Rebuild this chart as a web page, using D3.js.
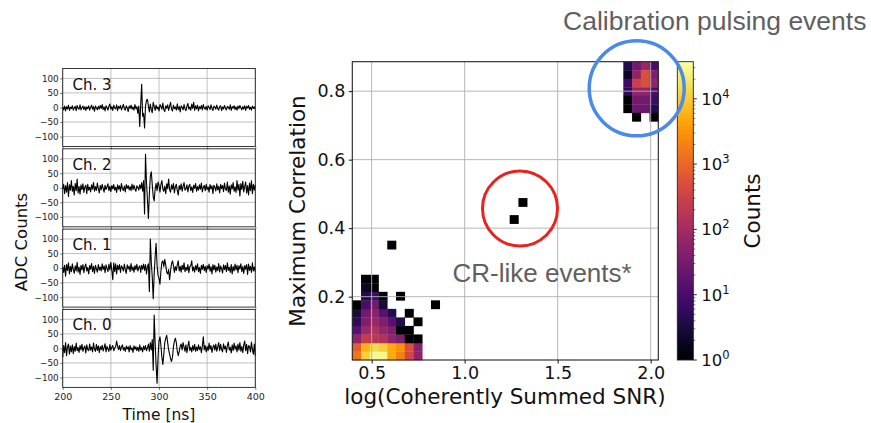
<!DOCTYPE html>
<html><head><meta charset="utf-8">
<script src="https://cdn.jsdelivr.net/npm/d3@7"></script>
<style>body{margin:0;background:#fff}svg{display:block}</style>
</head><body>
<svg id="c" width="871" height="423" font-family="DejaVu Sans, sans-serif"></svg>
<script>
// ---------------- DATA ----------------
const channelNames = ["Ch. 3", "Ch. 2", "Ch. 1", "Ch. 0"];
const tStart = 200, tStep = 1;
const ch3 = [2,-8,5,-12,3,-5,8,-10,1,-4, 6,-9,-2,4,-11,7,-3,-6,9,-8, -1,5,-7,3,-10,2,-4,6,-9,0, 8,-6,3,-13,5,-2,-8,4,-5,7,
 -3,10,-7,2,-12,6,-1,-9,5,12, -6,3,-10,8,-2,-5,9,-11,4,-3, 7,-8,1,11,-4,-9,6,-2,-14,5, -3,8,-6,2,-9,10,-4,3,-20,5,
 -65,10,80,-30,-20,-70,5,25,28,5, -15,12,-8,-18,18,5,-10,8,-5,2, -12,10,4,-6,15,-8,-14,6,-3,9, -10,5,18,-5,-12,8,-4,2,-9,13,
 -7,3,-15,6,1,-8,10,-4,-11,5, 14,-6,2,-9,12,-3,18,-10,6,-5, 8,-12,3,-4,7,-8,10,-2,-6,4, -9,6,1,-7,9,-3,-10,5,2,-6,
 8,-4,-9,3,6,-11,2,-5,7,-3, -8,4,1,-6,9,-10,3,-2,6,-7, 2,-9,5,-4,7,-1,-8,3,-5,6, -10,4,-2,7,-6,1,-9,5,-3,2, -6];
const ch2 = [-5,12,-20,8,-15,18,-30,10,-8,25, -12,5,-25,15,-10,30,-18,4,-22,10, -6,14,-16,3,9,-20,12,-8,2,-14, 10,-5,18,-12,4,-9,16,-3,-18,8,
 -7,12,-2,-15,9,-6,3,14,-10,5, -13,8,-4,11,-8,2,-16,10,-5,7, -12,15,-3,-9,6,-14,11,-2,8,-7, 4,-10,13,-6,9,-4,-12,7,2,-8,
 10,-3,18,-12,25,-90,115,20,-40,-105, -20,40,55,10,-30,-45,-5,15,-10,20, 8,-15,12,25,-5,-12,6,-20,14,-3, 30,-8,-15,10,-5,15,-18,4,12,-10,
 -25,8,-6,14,-12,5,18,-8,-4,10, -14,6,12,-10,3,-16,9,-2,15,-12, 4,-8,10,-5,16,-14,2,8,-10,12, -6,3,-15,11,-4,7,-20,9,2,-11,
 14,-7,5,-18,12,-3,8,-13,16,-5, -9,20,-15,6,-22,10,-4,18,-12,3, -16,25,-8,12,-28,15,-6,22,-14,5, 20,-18,8,-25,16,-10,24,-20,12,-8, 10];
const ch1 = [5,-15,10,-28,12,-8,18,-20,6,-12, 15,-5,-18,8,-10,20,-14,3,-22,10, -6,12,-16,5,14,-10,2,-20,9,-4, 16,-12,6,-18,10,-3,-14,12,-7,4,
 -10,15,-5,8,-16,11,-2,-12,14,-6, 20,-8,-40,18,-12,15,-20,10,-5,12, -15,8,2,-10,14,-6,-18,11,-3,7, -12,16,-8,4,-14,9,-5,13,-10,2,
 8,-15,10,-4,14,-8,12,-20,5,15, -80,100,20,-30,-105,-20,40,85,10,-25, -35,-55,-10,20,25,5,30,10,-15,-20, -5,-40,-10,15,25,8,-15,5,-8,12,
 25,-10,6,-14,10,-5,18,-12,3,-8, 12,-16,5,8,25,-10,4,-14,9,-6, 15,-12,2,-18,10,-4,13,-9,6,-15, 8,-3,14,-11,5,-20,12,-6,10,-14,
 4,-9,16,-13,7,-2,-17,11,-5,9, -12,18,-8,3,-15,12,-20,6,-10,14, -6,10,-16,8,-3,15,-12,5,-18,9, -4,12,-22,14,-8,6,-15,18,-10,4, -12];
const ch0 = [-30,10,-15,20,-25,5,15,-20,8,-12, 12,-18,6,-10,18,-8,3,-14,10,-5, 14,-10,2,8,-16,12,-4,-8,15,-6, 5,-12,18,-3,-10,14,-7,9,-15,6,
 -4,11,-9,3,16,-12,7,-2,-10,13, -6,4,10,-8,2,6,25,8,-4,10, -8,5,12,-6,3,-10,8,-2,6,-12, 10,-5,2,-14,9,-3,6,-8,4,-10,
 12,-6,3,-12,8,-4,10,-8,2,15, -10,20,-5,30,-75,115,20,-60,-120,-30, 25,40,10,-30,-55,-20,20,35,45,20, -5,-20,-35,-45,-30,5,25,35,20,-10,
 -25,-10,8,15,-5,20,5,-10,12,-15, 8,25,-8,4,-12,10,-6,14,-10,5, -8,12,-4,6,-15,8,40,-5,10,-12, 6,-8,18,-3,10,-14,4,12,-6,15,
 -10,5,20,-8,14,-4,-12,16,-2,8, -14,10,22,-6,4,-16,12,-8,18,-3, 9,-12,15,-6,20,-10,6,-15,12,25, -8,14,-18,10,6,-12,22,-5,-20,15, -25];
const waveforms = [ch3, ch2, ch1, ch0];
const waveXTicks = [200, 250, 300, 350, 400];
const waveYTicks = [-100, -50, 0, 50, 100];

// 2D histogram: bin grid and filled cells [column, row, counts]
const histXRange = [0.396, 2.041];
const histYRange = [0.015, 0.886];
const histBins = 35;
const histCells = [
 [0,0,1500],[1,0,11000],[2,0,30000],[3,0,28000],[4,0,5000],[5,0,2000],[6,0,400],[7,0,60],
 [0,1,800],[1,1,6000],[2,1,14000],[3,1,11000],[4,1,5000],[5,1,3000],[6,1,500],[7,1,50],
 [0,2,60],[1,2,250],[2,2,200],[3,2,150],[4,2,60],[5,2,40],[6,2,1],[7,2,1],
 [0,3,15],[1,3,80],[2,3,150],[3,3,70],[4,3,40],[5,3,1],[6,3,1],
 [0,4,5],[1,4,40],[2,4,70],[3,4,40],[4,4,15],[5,4,4],[7,4,1],
 [0,5,3],[1,5,30],[2,5,50],[3,5,15],[4,5,4],[6,5,1],
 [0,6,1],[1,6,10],[2,6,30],[3,6,3],[9,6,1],
 [1,7,4],[2,7,8],[3,7,1],[5,7,1],
 [1,8,2],[2,8,1],[1,9,1],[2,9,1],
 [4,13,1],[18,16,1],[19,18,1],
 [31,34,4],[32,34,30],[33,34,80],[34,34,10],
 [31,33,2],[32,33,60],[33,33,500],[34,33,40],
 [31,32,8],[32,32,300],[33,32,500],[34,32,60],
 [31,31,5],[32,31,60],[33,31,60],[34,31,10],
 [31,30,1],[32,30,30],[33,30,30],[34,30,8],
 [31,29,1],[32,29,25],[33,29,25],[34,29,4],
 [32,28,1],[34,28,1]
];
const histXTicks = [0.5, 1.0, 1.5, 2.0];
const histYTicks = [0.2, 0.4, 0.6, 0.8];
const countDomain = [1, 37000];
const cbMajorTicks = [1, 10, 100, 1000, 10000];
const cbExponents = ["0", "1", "2", "3", "4"];

// ---------------- DRAW ----------------
const svg = d3.select("#c");
const gridCol = "#b0b0b0";
const slideFont = "'Liberation Sans', Arial, sans-serif";

// ===== Left waveform panels =====
const wx = d3.scaleLinear().domain([200, 400]).range([62.7, 255.3]);
const panelTop0 = 68.5, panelH = 78, panelStep = 80.3;
waveforms.forEach((wf, k) => {
  const top = panelTop0 + k * panelStep;
  const wy = d3.scaleLinear().domain([-134, 134]).range([top + panelH, top]);
  const g = svg.append("g");
  g.selectAll(".gx").data(waveXTicks).enter().append("line")
    .attr("x1", d => wx(d)).attr("x2", d => wx(d)).attr("y1", top).attr("y2", top + panelH)
    .attr("stroke", gridCol).attr("stroke-width", 0.8);
  g.selectAll(".gy").data(waveYTicks).enter().append("line")
    .attr("x1", wx(200)).attr("x2", wx(400)).attr("y1", d => wy(d)).attr("y2", d => wy(d))
    .attr("stroke", gridCol).attr("stroke-width", 0.8);
  const line = d3.line().x((d, i) => wx(tStart + i * tStep)).y(d => wy(d));
  g.append("path").datum(wf).attr("d", line).attr("fill", "none")
    .attr("stroke", "#000").attr("stroke-width", 1.1).attr("stroke-linejoin", "round");
  const ya = g.append("g").attr("transform", `translate(${wx(200)},0)`)
    .call(d3.axisLeft(wy).tickValues(waveYTicks).tickSize(2.5).tickPadding(1.5)
      .tickFormat(d => d < 0 ? "\u2212" + Math.abs(d) : d));
  ya.select(".domain").remove();
  ya.selectAll("text").attr("font-size", 8.8).attr("font-family", "DejaVu Sans").attr("fill", "#222");
  ya.selectAll("line").attr("stroke", "#222").attr("stroke-width", 0.6);
  const xa = g.append("g").attr("transform", `translate(0,${top + panelH})`)
    .call(d3.axisBottom(wx).tickValues(waveXTicks).tickSize(2.5).tickPadding(3));
  xa.select(".domain").remove();
  xa.selectAll("line").attr("stroke", "#222").attr("stroke-width", 0.6);
  if (k < 3) xa.selectAll("text").remove();
  else xa.selectAll("text").attr("font-size", 9.5).attr("font-family", "DejaVu Sans").attr("fill", "#222");
  g.append("rect").attr("x", wx(200)).attr("y", top).attr("width", wx(400) - wx(200)).attr("height", panelH)
    .attr("fill", "none").attr("stroke", "#222").attr("stroke-width", 0.9);
  g.append("text").attr("x", 72.5).attr("y", top + 21).attr("font-size", 15).attr("fill", "#111").text(channelNames[k]);
});
svg.append("text").attr("transform", "translate(26.5,242) rotate(-90)").attr("text-anchor", "middle")
  .attr("font-size", 16.5).attr("fill", "#111").text("ADC Counts");
svg.append("text").attr("x", 159).attr("y", 419.5).attr("text-anchor", "middle")
  .attr("font-size", 15.5).attr("fill", "#111").text("Time [ns]");

// ===== Right 2D histogram =====
const hx = d3.scaleLinear().domain(histXRange).range([352.3, 658.3]);
const hy = d3.scaleLinear().domain(histYRange).range([360, 61.7]);
const color = d3.scaleSequentialLog(d3.interpolateInferno).domain(countDomain);
const bw = (histXRange[1] - histXRange[0]) / histBins;
const bh = (histYRange[1] - histYRange[0]) / histBins;
const hg = svg.append("g");
hg.selectAll("rect.cell").data(histCells).enter().append("rect")
  .attr("x", d => hx(histXRange[0] + d[0] * bw))
  .attr("y", d => hy(histYRange[0] + (d[1] + 1) * bh))
  .attr("width", d => hx(histXRange[0] + (d[0] + 1) * bw) - hx(histXRange[0] + d[0] * bw) + 0.3)
  .attr("height", d => hy(histYRange[0] + d[1] * bh) - hy(histYRange[0] + (d[1] + 1) * bh) + 0.3)
  .attr("fill", d => color(d[2]));
hg.selectAll(".hgx").data(histXTicks).enter().append("line")
  .attr("x1", d => hx(d)).attr("x2", d => hx(d)).attr("y1", 61.7).attr("y2", 360)
  .attr("stroke", gridCol).attr("stroke-width", 1).attr("opacity", 0.9);
hg.selectAll(".hgy").data(histYTicks).enter().append("line")
  .attr("x1", 352.3).attr("x2", 658.3).attr("y1", d => hy(d)).attr("y2", d => hy(d))
  .attr("stroke", gridCol).attr("stroke-width", 1).attr("opacity", 0.9);
const hxa = svg.append("g").attr("transform", "translate(0,360)")
  .call(d3.axisBottom(hx).tickValues(histXTicks).tickSize(3.5).tickPadding(3.5).tickFormat(d3.format(".1f")));
hxa.select(".domain").remove();
hxa.selectAll("text").attr("font-size", 17.5).attr("font-family", "DejaVu Sans").attr("fill", "#111");
hxa.selectAll("line").attr("stroke", "#111");
const hya = svg.append("g").attr("transform", "translate(352.3,0)")
  .call(d3.axisLeft(hy).tickValues(histYTicks).tickSize(3.5).tickPadding(3.5).tickFormat(d3.format(".1f")));
hya.select(".domain").remove();
hya.selectAll("text").attr("font-size", 17.5).attr("font-family", "DejaVu Sans").attr("fill", "#111");
hya.selectAll("line").attr("stroke", "#111");
svg.append("rect").attr("x", 352.3).attr("y", 61.7).attr("width", 306).attr("height", 298.3)
  .attr("fill", "none").attr("stroke", "#222").attr("stroke-width", 1.1);
svg.append("text").attr("x", 505).attr("y", 404).attr("text-anchor", "middle")
  .attr("font-size", 21.5).attr("fill", "#111").text("log(Coherently Summed SNR)");
svg.append("text").attr("transform", "translate(305,211) rotate(-90)").attr("text-anchor", "middle")
  .attr("font-size", 21.5).attr("fill", "#111").text("Maximum Correlation");

// ===== Colorbar =====
const cbX = 677.3, cbW = 16;
const cy = d3.scaleLog().domain(countDomain).range([360, 61.7]);
const defs = svg.append("defs");
const grad = defs.append("linearGradient").attr("id", "inf").attr("x1", 0).attr("y1", 1).attr("x2", 0).attr("y2", 0);
d3.range(0, 1.0001, 0.05).forEach(t => grad.append("stop").attr("offset", t).attr("stop-color", d3.interpolateInferno(t)));
svg.append("rect").attr("x", cbX).attr("y", 61.7).attr("width", cbW).attr("height", 298.3)
  .attr("fill", "url(#inf)").attr("stroke", "#222").attr("stroke-width", 0.9);
const minor = [];
[1, 10, 100, 1000, 10000].forEach(b => [2,3,4,5,6,7,8,9].forEach(m => { if (b * m <= countDomain[1]) minor.push(b * m); }));
svg.selectAll(".mn").data(minor).enter().append("line")
  .attr("x1", cbX + cbW).attr("x2", cbX + cbW + 2).attr("y1", d => cy(d)).attr("y2", d => cy(d))
  .attr("stroke", "#111").attr("stroke-width", 0.6);
svg.selectAll(".mj").data(cbMajorTicks).enter().append("line")
  .attr("x1", cbX + cbW).attr("x2", cbX + cbW + 3.5).attr("y1", d => cy(d)).attr("y2", d => cy(d))
  .attr("stroke", "#111").attr("stroke-width", 0.9);
const lab = svg.selectAll(".cbl").data(cbMajorTicks).enter().append("text")
  .attr("x", cbX + cbW + 8).attr("y", d => cy(d) + 6).attr("font-size", 16.5).attr("fill", "#111");
lab.append("tspan").text("10");
lab.append("tspan").attr("dy", -7).attr("font-size", 11.5).text((d, i) => cbExponents[i]);
svg.append("text").attr("transform", "translate(760,211) rotate(-90)").attr("text-anchor", "middle")
  .attr("font-size", 21.5).attr("fill", "#111").text("Counts");

// ===== Annotations =====
svg.append("circle").attr("cx", 520).attr("cy", 208.5).attr("r", 37.5)
  .attr("fill", "none").attr("stroke", "#e8221e").attr("stroke-width", 3);
svg.append("circle").attr("cx", 636.7).attr("cy", 88.3).attr("r", 47.5)
  .attr("fill", "none").attr("stroke", "#4a8ae8").attr("stroke-width", 3.5);
svg.append("text").attr("x", 452.5).attr("y", 281.5).attr("font-family", slideFont)
  .attr("font-size", 26).attr("fill", "#5f5f5f").text("CR-like events*");
svg.append("text").attr("x", 563).attr("y", 30).attr("font-family", slideFont)
  .attr("font-size", 26.5).attr("fill", "#5f5f5f").text("Calibration pulsing events");
</script>
</body></html>
